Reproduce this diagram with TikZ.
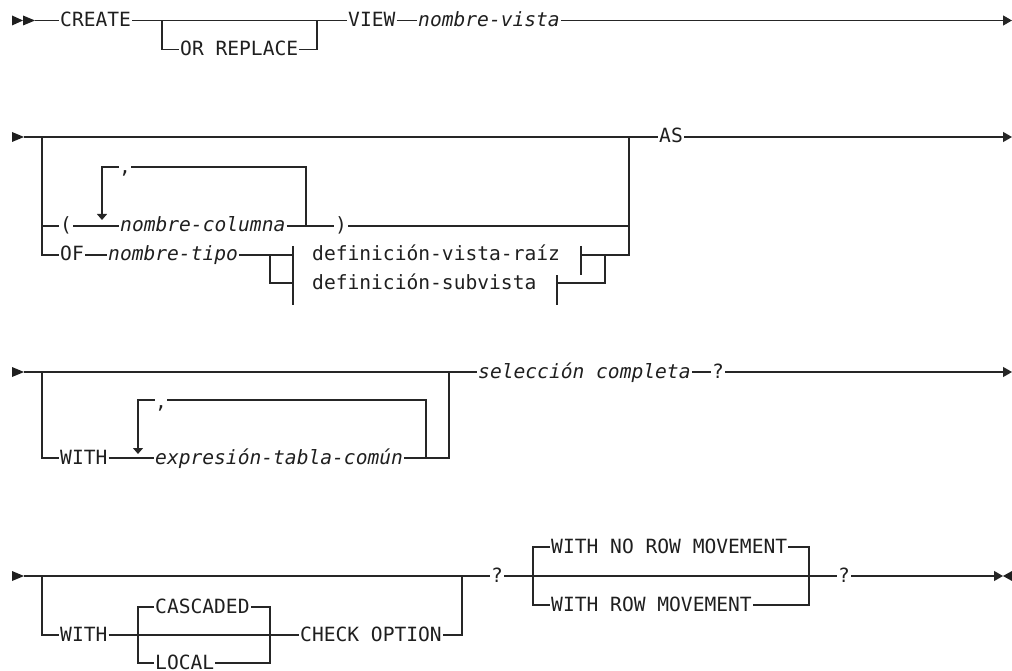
\documentclass[tikz,border=0pt]{standalone}
\usepackage{fontspec}
\usetikzlibrary{arrows.meta}
\newfontfamily\rrmono{DejaVu Sans Mono}
\tikzset{
  kwd/.style={anchor=west, inner xsep=1pt, inner ysep=0pt, text height=12pt, text depth=0pt,
              font=\fontsize{19.6}{22}\rrmono, text=black!88},
  varn/.style={kwd, font=\fontsize{19.6}{22}\rrmono\itshape},
  cma/.style={anchor=base, inner sep=0pt, font=\fontsize{19.6}{22}\rrmono, text=black!88},
  ln/.style={line width=1.2pt, draw=black!85},
  endtip/.style={-{Triangle[length=9pt,width=10pt]}},
  looptip/.style={-{Triangle[length=6pt,width=10pt]}},
  tri/.style={fill=black!88},
}
\begin{document}
\begin{tikzpicture}[x=1pt,y=-1pt]
\useasboundingbox (0,0) rectangle (1012,671);

% ---------------- Row 1 ----------------
\fill[tri] (12,15.5) -- (23,20.5) -- (12,25.5) -- cycle;
\fill[tri] (23,15.5) -- (35,20.5) -- (23,25.5) -- cycle;
\coordinate (r1s) at (35,20.5);
\node[kwd] (create) at (59,20.5) {CREATE};
\node[kwd] (orrep) at (179,49.5) {OR REPLACE};
\node[kwd] (view) at (347,20.5) {VIEW};
\node[varn] (nvista) at (417,20.5) {nombre-vista};
\coordinate (b1l) at (162,20.5);
\coordinate (b1r) at (317,20.5);
\coordinate (r1e) at (1012,20.5);
\draw[ln] (r1s) -- (create.west);
\draw[ln] (create.east) -- (view.west);
\draw[ln] (b1l) |- (orrep.west);
\draw[ln] (orrep.east) -| (b1r);
\draw[ln] (view.east) -- (nvista.west);
\draw[ln,endtip] (nvista.east) -- (r1e);

% ---------------- Row 2 ----------------
\fill[tri] (12,132) -- (24,137) -- (12,142) -- cycle;
\coordinate (r2s) at (24,137);
\coordinate (b2l) at (42,137);
\coordinate (b2r) at (629,137);
\node[kwd] (lp) at (59,226) {(};
\node[varn] (ncol) at (119,226) {nombre-columna};
\node[kwd] (rp) at (334,226) {)};
\node[kwd] (of) at (59,255) {OF};
\node[varn] (ntipo) at (107,255) {nombre-tipo};
\node[kwd] (as) at (658,137) {AS};
\coordinate (r2e) at (1012,137);
\draw[ln] (r2s) -- (as.west);
\draw[ln] (b2l) |- (of.west);
\draw[ln] (b2l |- lp.west) -- (lp.west);
\draw[ln] (lp.east) -- (ncol.west);
\draw[ln] (ncol.east) -- (rp.west);
\draw[ln] (rp.east) -| (b2r);
\draw[ln] (of.east) -- (ntipo.west);
\draw[ln,endtip] (as.east) -- (r2e);
% repeat loop
\coordinate (l2a) at (102,167);
\coordinate (l2b) at (306,167);
\coordinate (l2t) at (102,220);
\node[cma] (cm1) at (125,174) {,};
\draw[ln] (ncol.east -| l2b) -- (l2b) -- (cm1.east |- l2b);
\draw[ln,looptip] (cm1.west |- l2a) -- (l2a) -- (l2t);
% fragments
\node[kwd] (dvr) at (311,255) {definición-vista-raíz};
\node[kwd] (dsv) at (311,283) {definición-subvista};
\coordinate (fbt) at (293,246);
\coordinate (fbb) at (293,305);
\coordinate (fj) at (270,255);
\coordinate (e1t) at (581,246);
\coordinate (e1b) at (581,275);
\coordinate (e2t) at (557,275);
\coordinate (e2b) at (557,305);
\coordinate (rj) at (605,255);
\draw[ln] (ntipo.east) -- (fbt |- ntipo.east);
\draw[ln] (fj) |- (fbt |- dsv.west);
\draw[ln] (fbt) -- (fbb);
\draw[ln] (e1t) -- (e1b);
\draw[ln] (e2t) -- (e2b);
\draw[ln] (e1t |- dvr.west) -| (b2r);
\draw[ln] (e2t |- dsv.west) -| (rj);

% ---------------- Row 3 ----------------
\fill[tri] (12,367) -- (24,372) -- (12,377) -- cycle;
\coordinate (r3s) at (24,372);
\coordinate (b3l) at (42,372);
\coordinate (b3r) at (449,372);
\node[kwd] (with3) at (59,458) {WITH};
\node[varn] (expr) at (154,458) {expresión-tabla-común};
\node[varn] (selc) at (477,372) {selección completa};
\node[kwd] (q3) at (711,372) {?};
\coordinate (r3e) at (1012,372);
\draw[ln] (r3s) -- (selc.west);
\draw[ln] (b3l) |- (with3.west);
\draw[ln] (with3.east) -- (expr.west);
\draw[ln] (expr.east) -| (b3r);
\draw[ln] (selc.east) -- (q3.west);
\draw[ln,endtip] (q3.east) -- (r3e);
\coordinate (l3a) at (138,400);
\coordinate (l3b) at (426,400);
\coordinate (l3t) at (138,454);
\node[cma] (cm2) at (161,408) {,};
\draw[ln] (expr.east -| l3b) -- (l3b) -- (cm2.east |- l3b);
\draw[ln,looptip] (cm2.west |- l3a) -- (l3a) -- (l3t);

% ---------------- Row 4 ----------------
\fill[tri] (12,571) -- (24,576) -- (12,581) -- cycle;
\coordinate (r4s) at (24,576);
\coordinate (b4l) at (42,576);
\coordinate (b4r) at (462,576);
\node[kwd] (with4) at (59,635) {WITH};
\node[kwd] (casc) at (154,607) {CASCADED};
\node[kwd] (local) at (154,663) {LOCAL};
\node[kwd] (chk) at (299,635) {CHECK OPTION};
\coordinate (c4l) at (138,635);
\coordinate (c4r) at (270,635);
\node[kwd] (q4a) at (490,576) {?};
\coordinate (b5l) at (533,576);
\coordinate (b5r) at (809,576);
\node[kwd] (wnrm) at (550,547) {WITH NO ROW MOVEMENT};
\node[kwd] (wrm) at (550,605) {WITH ROW MOVEMENT};
\node[kwd] (q4b) at (837,576) {?};
\coordinate (e4) at (1003,576);
\draw[ln] (r4s) -- (q4a.west);
\draw[ln] (b4l) |- (with4.west);
\draw[ln] (with4.east) -- (chk.west);
\draw[ln] (casc.west) -| (c4l) |- (local.west);
\draw[ln] (casc.east) -| (c4r) |- (local.east);
\draw[ln] (chk.east) -| (b4r);
\draw[ln] (q4a.east) -- (q4b.west);
\draw[ln] (wnrm.west) -| (b5l) |- (wrm.west);
\draw[ln] (wnrm.east) -| (b5r) |- (wrm.east);
\draw[ln,endtip] (q4b.east) -- (e4);
\fill[tri] (1012,571) -- (1003,576) -- (1012,581) -- cycle;
\end{tikzpicture}
\end{document}
